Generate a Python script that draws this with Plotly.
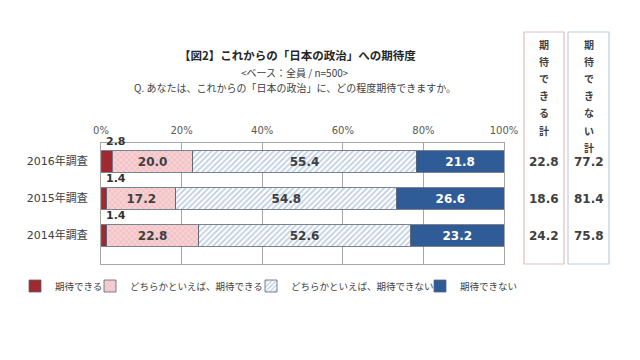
import plotly.graph_objects as go

# ---- data ----
categories = ['2016年調査', '2015年調査', '2014年調査']
series_names = ['期待できる', 'どちらかといえば、期待できる', 'どちらかといえば、期待できない', '期待できない']
can = [2.8, 1.4, 1.4]
somewhat_can = [20.0, 17.2, 22.8]
somewhat_cannot = [55.4, 54.8, 52.6]
cannot = [21.8, 26.6, 23.2]
total_can = [22.8, 18.6, 24.2]
total_cannot = [77.2, 81.4, 75.8]
x_ticks = [0, 20, 40, 60, 80, 100]
x_tick_labels = ['0%', '20%', '40%', '60%', '80%', '100%']
col_label_can = '期待できる計'
col_label_cannot = '期待できない計'

NUM_FONT = 'DejaVu Sans'
JP_FONT = 'Noto Sans CJK JP'
TXT = '#404040'
EDGE = '#5a6475'

fig = go.Figure()

styles = [
    dict(color='#A0282F'),
    dict(color='#F5C9CB', pattern=dict(shape='x', fgcolor='#E597A0', bgcolor='#F7D1D3', size=4, solidity=0.3)),
    dict(color='#FFFFFF', pattern=dict(shape='/', fgcolor='#7F9CC8', bgcolor='#FFFFFF', size=4, solidity=0.45)),
    dict(color='#2F5C97'),
]
values = [can, somewhat_can, somewhat_cannot, cannot]
text_colors = [TXT, TXT, TXT, '#FFFFFF']
legend_ids = ['legend', 'legend2', 'legend3', 'legend4']

for i, (name, vals) in enumerate(zip(series_names, values)):
    fig.add_trace(go.Bar(
        y=categories, x=vals, name=name, orientation='h',
        marker=dict(**styles[i], line=dict(color=EDGE, width=0.8)),
        text=None if i == 0 else [f'{v:.1f}' for v in vals],
        textposition='inside', insidetextanchor='middle',
        textfont=dict(family=NUM_FONT, size=12, color=text_colors[i], weight='bold'),
        constraintext='none', cliponaxis=False,
        legend=legend_ids[i], hoverinfo='skip',
    ))

annotations = []
# small values above first segment
for cat, v in zip(categories, can):
    annotations.append(dict(x=0, y=cat, xref='x', yref='y', text=f'{v:.1f}', showarrow=False,
                            xanchor='left', yanchor='middle', xshift=3, yshift=20,
                            font=dict(family=NUM_FONT, size=11, color='#333333', weight='bold')))

# geometry helpers (pixel -> paper)
PL, PW, PT, PH = 101, 403, 143, 121


def px2x(px):
    return (px - PL) / PW


def py2y(py):
    return (PT + PH - py) / PH


col_can_x = px2x(544)
col_cannot_x = px2x(588.5)
for cat, a, b in zip(categories, total_can, total_cannot):
    for cx, val in [(col_can_x, a), (col_cannot_x, b)]:
        annotations.append(dict(x=cx, y=cat, xref='paper', yref='y', text=f'{val:.1f}', showarrow=False,
                                xanchor='center', yanchor='middle',
                                font=dict(family=NUM_FONT, size=12, color=TXT, weight='bold')))

for label, cx in [(col_label_can, col_can_x), (col_label_cannot, col_cannot_x)]:
    for k, ch in enumerate(label):
        annotations.append(dict(x=cx, y=py2y(44 + 17.2 * k), xref='paper', yref='paper', text=ch,
                                showarrow=False, xanchor='center', yanchor='middle',
                                font=dict(family=JP_FONT, size=10, color=TXT, weight='bold')))

# titles
annotations += [
    dict(x=px2x(297), y=py2y(55), xref='paper', yref='paper', showarrow=False,
         xanchor='center', yanchor='middle',
         text='【図2】これからの「日本の政治」への期待度',
         font=dict(family=JP_FONT, size=11.5, color='#262626', weight='bold')),
    dict(x=px2x(295), y=py2y(73), xref='paper', yref='paper', showarrow=False,
         xanchor='center', yanchor='middle',
         text='&lt;ベース：全員 / n=500&gt;',
         font=dict(family=JP_FONT, size=10, color=TXT)),
    dict(x=px2x(295), y=py2y(87), xref='paper', yref='paper', showarrow=False,
         xanchor='center', yanchor='middle',
         text='Q. あなたは、これからの「日本の政治」に、どの程度期待できますか。',
         font=dict(family=JP_FONT, size=10, color=TXT)),
]

shapes = [
    dict(type='rect', xref='paper', yref='paper', x0=px2x(524), x1=px2x(564), y0=0, y1=py2y(32),
         line=dict(color='#E3BDBD', width=1.2), fillcolor='rgba(0,0,0,0)', layer='below'),
    dict(type='rect', xref='paper', yref='paper', x0=px2x(568), x1=px2x(609), y0=0, y1=py2y(32),
         line=dict(color='#BCCFE3', width=1.2), fillcolor='rgba(0,0,0,0)', layer='below'),
]

legend_text_px = [55, 130, 291, 460]
leg_common = dict(orientation='h', yanchor='middle', xanchor='left', y=py2y(286),
                  font=dict(family=JP_FONT, size=9.5, color=TXT), bgcolor='rgba(0,0,0,0)',
                  borderwidth=0, itemclick=False, itemdoubleclick=False)
legends = {}
for lid, tx in zip(legend_ids, legend_text_px):
    legends[lid] = dict(x=px2x(tx - 40), **leg_common)

fig.update_layout(
    width=640, height=360,
    margin=dict(l=PL, r=640 - PL - PW, t=PT, b=360 - PT - PH, autoexpand=False),
    paper_bgcolor='white', plot_bgcolor='white',
    barmode='stack', bargap=0.43,
    xaxis=dict(range=[0, 100], side='top', tickvals=x_ticks, ticktext=x_tick_labels,
               showgrid=True, gridcolor='#A6A6A6', gridwidth=1,
               showline=True, linecolor='#A6A6A6', mirror=True, zeroline=False,
               ticks='', ticklabelstandoff=4,
               tickfont=dict(family=NUM_FONT, size=10, color='#595959'), fixedrange=True),
    yaxis=dict(categoryorder='array', categoryarray=categories, autorange='reversed',
               showline=True, linecolor='#A6A6A6', mirror=True, showgrid=False,
               ticks='', ticklabelstandoff=10,
               tickfont=dict(family=NUM_FONT + ', ' + JP_FONT, size=11, color=TXT), fixedrange=True),
    annotations=annotations, shapes=shapes,
    showlegend=True,
    **legends,
)

fig.write_html('out.html', config={'displayModeBar': False},
               post_script="document.body.style.margin='0';")
